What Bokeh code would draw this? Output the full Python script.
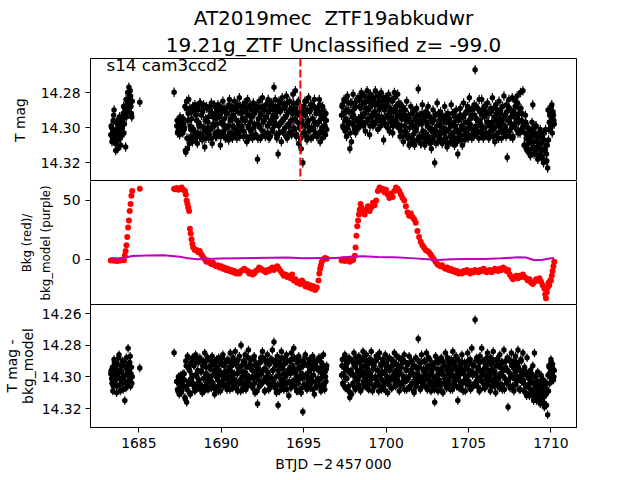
from bokeh.plotting import figure
from bokeh.models import (Range1d, FixedTicker, PrintfTickFormatter, Span, Label, Title,
                          ColumnDataSource, LinearAxis)
from bokeh.layouts import column
from bokeh.embed import file_html
from bokeh.resources import INLINE

# ---------------- data ----------------
title_line1 = "AT2019mec\u00a0 ZTF19abkudwr"
title_line2 = "19.21g_ZTF Unclassified z= -99.0"
sector_text = "s14 cam3ccd2"
event_time = 1694.8
mag_err = 0.0027

# observation times (BTJD - 2457000), first set
tA = [1683.30, 1683.35, 1683.40, 1683.45, 1683.50, 1683.55, 1683.60, 1683.65, 1683.70, 1683.75,
      1683.80, 1683.85, 1683.90, 1683.95, 1684.00, 1684.05, 1684.10, 1684.15, 1684.20, 1684.25,
      1684.30, 1684.35, 1684.40, 1684.45, 1684.50, 1684.55, 1684.60]
t_iso = [1685.06, 1687.14]
tB = [1687.30, 1687.35, 1687.40, 1687.45, 1687.50, 1687.55, 1687.60, 1687.65, 1687.70, 1687.75,
      1687.80, 1687.85, 1687.90, 1687.95, 1688.00, 1688.05, 1688.10, 1688.15, 1688.20, 1688.25,
      1688.30, 1688.35, 1688.40, 1688.45, 1688.50, 1688.55, 1688.60, 1688.65, 1688.70, 1688.75,
      1688.80, 1688.85, 1688.90, 1688.95, 1689.00, 1689.05, 1689.10, 1689.15, 1689.20, 1689.25,
      1689.30, 1689.35, 1689.40, 1689.45, 1689.50, 1689.55, 1689.60, 1689.65, 1689.70, 1689.75,
      1689.80, 1689.85, 1689.90, 1689.95, 1690.00, 1690.05, 1690.10, 1690.15, 1690.20, 1690.25,
      1690.30, 1690.35, 1690.40, 1690.45, 1690.50, 1690.55, 1690.60, 1690.65, 1690.70, 1690.75,
      1690.80, 1690.85, 1690.90, 1690.95, 1691.00, 1691.05, 1691.10, 1691.15, 1691.20, 1691.25,
      1691.30, 1691.35, 1691.40, 1691.45, 1691.50, 1691.55, 1691.60, 1691.65, 1691.70, 1691.75,
      1691.80, 1691.85, 1691.90, 1691.95, 1692.00, 1692.05, 1692.10, 1692.15, 1692.20, 1692.25,
      1692.30, 1692.35, 1692.40, 1692.45, 1692.50, 1692.55, 1692.60, 1692.65, 1692.70, 1692.75,
      1692.80, 1692.85, 1692.90, 1692.95, 1693.00, 1693.05, 1693.10, 1693.15, 1693.20, 1693.25,
      1693.30, 1693.35, 1693.40, 1693.45, 1693.50, 1693.55, 1693.60, 1693.65, 1693.70, 1693.75,
      1693.80, 1693.85, 1693.90, 1693.95, 1694.00, 1694.05, 1694.10, 1694.15, 1694.20, 1694.25,
      1694.30, 1694.35, 1694.40, 1694.45, 1694.50, 1694.55, 1694.60, 1694.65, 1694.70, 1694.75,
      1694.80, 1694.85, 1694.90, 1694.95, 1695.00, 1695.05, 1695.10, 1695.15, 1695.20, 1695.25,
      1695.30, 1695.35, 1695.40, 1695.45, 1695.50, 1695.55, 1695.60, 1695.65, 1695.70, 1695.75,
      1695.80, 1695.85, 1695.90, 1695.95, 1696.00, 1696.05, 1696.10, 1696.15, 1696.20, 1696.25,
      1696.30, 1696.35, 1696.40]
tC = [1697.30, 1697.35, 1697.40, 1697.45, 1697.50, 1697.55, 1697.60, 1697.65, 1697.70, 1697.75,
      1697.80, 1697.85, 1697.90, 1697.95, 1698.00, 1698.05, 1698.10, 1698.15, 1698.20, 1698.25,
      1698.30, 1698.35, 1698.40, 1698.45, 1698.50, 1698.55, 1698.60, 1698.65, 1698.70, 1698.75,
      1698.80, 1698.85, 1698.90, 1698.95, 1699.00, 1699.05, 1699.10, 1699.15, 1699.20, 1699.25,
      1699.30, 1699.35, 1699.40, 1699.45, 1699.50, 1699.55, 1699.60, 1699.65, 1699.70, 1699.75,
      1699.80, 1699.85, 1699.90, 1699.95, 1700.00, 1700.05, 1700.10, 1700.15, 1700.20, 1700.25,
      1700.30, 1700.35, 1700.40, 1700.45, 1700.50, 1700.55, 1700.60, 1700.65, 1700.70, 1700.75,
      1700.80, 1700.85, 1700.90, 1700.95, 1701.00, 1701.05, 1701.10, 1701.15, 1701.20, 1701.25,
      1701.30, 1701.35, 1701.40, 1701.45, 1701.50, 1701.55, 1701.60, 1701.65, 1701.70, 1701.75,
      1701.80, 1701.85, 1701.90, 1701.95, 1702.00, 1702.05, 1702.10, 1702.15, 1702.20, 1702.25,
      1702.30, 1702.35, 1702.40, 1702.45, 1702.50, 1702.55, 1702.60, 1702.65, 1702.70, 1702.75,
      1702.80, 1702.85, 1702.90, 1702.95, 1703.00, 1703.05, 1703.10, 1703.15, 1703.20, 1703.25,
      1703.30, 1703.35, 1703.40, 1703.45, 1703.50, 1703.55, 1703.60, 1703.65, 1703.70, 1703.75,
      1703.80, 1703.85, 1703.90, 1703.95, 1704.00, 1704.05, 1704.10, 1704.15, 1704.20, 1704.25,
      1704.30, 1704.35, 1704.40, 1704.45, 1704.50, 1704.55, 1704.60, 1704.65, 1704.70, 1704.75,
      1704.80, 1704.85, 1704.90, 1704.95, 1705.00, 1705.05, 1705.10, 1705.15, 1705.20, 1705.25,
      1705.30, 1705.35, 1705.40, 1705.45, 1705.50, 1705.55, 1705.60, 1705.65, 1705.70, 1705.75,
      1705.80, 1705.85, 1705.90, 1705.95, 1706.00, 1706.05, 1706.10, 1706.15, 1706.20, 1706.25,
      1706.30, 1706.35, 1706.40, 1706.45, 1706.50, 1706.55, 1706.60, 1706.65, 1706.70, 1706.75,
      1706.80, 1706.85, 1706.90, 1706.95, 1707.00, 1707.05, 1707.10, 1707.15, 1707.20, 1707.25,
      1707.30, 1707.35, 1707.40, 1707.45, 1707.50, 1707.55, 1707.60, 1707.65, 1707.70, 1707.75,
      1707.80, 1707.85, 1707.90, 1707.95, 1708.00, 1708.05, 1708.10, 1708.15, 1708.20, 1708.25,
      1708.30, 1708.35, 1708.40, 1708.45, 1708.50, 1708.55, 1708.60, 1708.65, 1708.70, 1708.75,
      1708.80, 1708.85, 1708.90, 1708.95, 1709.00, 1709.05, 1709.10, 1709.15, 1709.20, 1709.25,
      1709.30, 1709.35, 1709.40, 1709.45, 1709.50, 1709.55, 1709.60, 1709.65, 1709.70, 1709.75,
      1709.80, 1709.85, 1709.90, 1709.95, 1710.00, 1710.05, 1710.10, 1710.15, 1710.20]

# observation times, second (interleaved) set
tA2 = [1683.325, 1683.375, 1683.425, 1683.475, 1683.525, 1683.575, 1683.625, 1683.675, 1683.725, 1683.775,
       1683.825, 1683.875, 1683.925, 1683.975, 1684.025, 1684.075, 1684.125, 1684.175, 1684.225, 1684.275,
       1684.325, 1684.375, 1684.425, 1684.475, 1684.525, 1684.575]
tB2 = [1687.325, 1687.375, 1687.425, 1687.475, 1687.525, 1687.575, 1687.625, 1687.675, 1687.725, 1687.775,
       1687.825, 1687.875, 1687.925, 1687.975, 1688.025, 1688.075, 1688.125, 1688.175, 1688.225, 1688.275,
       1688.325, 1688.375, 1688.425, 1688.475, 1688.525, 1688.575, 1688.625, 1688.675, 1688.725, 1688.775,
       1688.825, 1688.875, 1688.925, 1688.975, 1689.025, 1689.075, 1689.125, 1689.175, 1689.225, 1689.275,
       1689.325, 1689.375, 1689.425, 1689.475, 1689.525, 1689.575, 1689.625, 1689.675, 1689.725, 1689.775,
       1689.825, 1689.875, 1689.925, 1689.975, 1690.025, 1690.075, 1690.125, 1690.175, 1690.225, 1690.275,
       1690.325, 1690.375, 1690.425, 1690.475, 1690.525, 1690.575, 1690.625, 1690.675, 1690.725, 1690.775,
       1690.825, 1690.875, 1690.925, 1690.975, 1691.025, 1691.075, 1691.125, 1691.175, 1691.225, 1691.275,
       1691.325, 1691.375, 1691.425, 1691.475, 1691.525, 1691.575, 1691.625, 1691.675, 1691.725, 1691.775,
       1691.825, 1691.875, 1691.925, 1691.975, 1692.025, 1692.075, 1692.125, 1692.175, 1692.225, 1692.275,
       1692.325, 1692.375, 1692.425, 1692.475, 1692.525, 1692.575, 1692.625, 1692.675, 1692.725, 1692.775,
       1692.825, 1692.875, 1692.925, 1692.975, 1693.025, 1693.075, 1693.125, 1693.175, 1693.225, 1693.275,
       1693.325, 1693.375, 1693.425, 1693.475, 1693.525, 1693.575, 1693.625, 1693.675, 1693.725, 1693.775,
       1693.825, 1693.875, 1693.925, 1693.975, 1694.025, 1694.075, 1694.125, 1694.175, 1694.225, 1694.275,
       1694.325, 1694.375, 1694.425, 1694.475, 1694.525, 1694.575, 1694.625, 1694.675, 1694.725, 1694.775,
       1694.825, 1694.875, 1694.925, 1694.975, 1695.025, 1695.075, 1695.125, 1695.175, 1695.225, 1695.275,
       1695.325, 1695.375, 1695.425, 1695.475, 1695.525, 1695.575, 1695.625, 1695.675, 1695.725, 1695.775,
       1695.825, 1695.875, 1695.925, 1695.975, 1696.025, 1696.075, 1696.125, 1696.175, 1696.225, 1696.275,
       1696.325, 1696.375]
tC2 = [1697.325, 1697.375, 1697.425, 1697.475, 1697.525, 1697.575, 1697.625, 1697.675, 1697.725, 1697.775,
       1697.825, 1697.875, 1697.925, 1697.975, 1698.025, 1698.075, 1698.125, 1698.175, 1698.225, 1698.275,
       1698.325, 1698.375, 1698.425, 1698.475, 1698.525, 1698.575, 1698.625, 1698.675, 1698.725, 1698.775,
       1698.825, 1698.875, 1698.925, 1698.975, 1699.025, 1699.075, 1699.125, 1699.175, 1699.225, 1699.275,
       1699.325, 1699.375, 1699.425, 1699.475, 1699.525, 1699.575, 1699.625, 1699.675, 1699.725, 1699.775,
       1699.825, 1699.875, 1699.925, 1699.975, 1700.025, 1700.075, 1700.125, 1700.175, 1700.225, 1700.275,
       1700.325, 1700.375, 1700.425, 1700.475, 1700.525, 1700.575, 1700.625, 1700.675, 1700.725, 1700.775,
       1700.825, 1700.875, 1700.925, 1700.975, 1701.025, 1701.075, 1701.125, 1701.175, 1701.225, 1701.275,
       1701.325, 1701.375, 1701.425, 1701.475, 1701.525, 1701.575, 1701.625, 1701.675, 1701.725, 1701.775,
       1701.825, 1701.875, 1701.925, 1701.975, 1702.025, 1702.075, 1702.125, 1702.175, 1702.225, 1702.275,
       1702.325, 1702.375, 1702.425, 1702.475, 1702.525, 1702.575, 1702.625, 1702.675, 1702.725, 1702.775,
       1702.825, 1702.875, 1702.925, 1702.975, 1703.025, 1703.075, 1703.125, 1703.175, 1703.225, 1703.275,
       1703.325, 1703.375, 1703.425, 1703.475, 1703.525, 1703.575, 1703.625, 1703.675, 1703.725, 1703.775,
       1703.825, 1703.875, 1703.925, 1703.975, 1704.025, 1704.075, 1704.125, 1704.175, 1704.225, 1704.275,
       1704.325, 1704.375, 1704.425, 1704.475, 1704.525, 1704.575, 1704.625, 1704.675, 1704.725, 1704.775,
       1704.825, 1704.875, 1704.925, 1704.975, 1705.025, 1705.075, 1705.125, 1705.175, 1705.225, 1705.275,
       1705.325, 1705.375, 1705.425, 1705.475, 1705.525, 1705.575, 1705.625, 1705.675, 1705.725, 1705.775,
       1705.825, 1705.875, 1705.925, 1705.975, 1706.025, 1706.075, 1706.125, 1706.175, 1706.225, 1706.275,
       1706.325, 1706.375, 1706.425, 1706.475, 1706.525, 1706.575, 1706.625, 1706.675, 1706.725, 1706.775,
       1706.825, 1706.875, 1706.925, 1706.975, 1707.025, 1707.075, 1707.125, 1707.175, 1707.225, 1707.275,
       1707.325, 1707.375, 1707.425, 1707.475, 1707.525, 1707.575, 1707.625, 1707.675, 1707.725, 1707.775,
       1707.825, 1707.875, 1707.925, 1707.975, 1708.025, 1708.075, 1708.125, 1708.175, 1708.225, 1708.275,
       1708.325, 1708.375, 1708.425, 1708.475, 1708.525, 1708.575, 1708.625, 1708.675, 1708.725, 1708.775,
       1708.825, 1708.875, 1708.925, 1708.975, 1709.025, 1709.075, 1709.125, 1709.175, 1709.225, 1709.275,
       1709.325, 1709.375, 1709.425, 1709.475, 1709.525, 1709.575, 1709.625, 1709.675, 1709.725, 1709.775,
       1709.825, 1709.875, 1709.925, 1709.975, 1710.025, 1710.075, 1710.125, 1710.175]

# T mag (top panel), first set
magA = [14.304, 14.300, 14.306, 14.296, 14.290, 14.302, 14.313, 14.304, 14.298, 14.307,
        14.295, 14.302, 14.310, 14.297, 14.300, 14.292, 14.303, 14.289, 14.311, 14.294,
        14.286, 14.291, 14.277, 14.287, 14.282, 14.292, 14.285]
mag_iso = [14.2855, 14.2798]
magB = [14.299, 14.303, 14.296, 14.301, 14.294, 14.300, 14.297, 14.302, 14.295, 14.301,
        14.288, 14.314, 14.285, 14.312, 14.292, 14.306, 14.289, 14.301, 14.295, 14.308,
        14.291, 14.302, 14.287, 14.305, 14.296, 14.309, 14.290, 14.299, 14.286, 14.304,
        14.293, 14.307, 14.289, 14.300, 14.311, 14.295, 14.288, 14.303, 14.297, 14.306,
        14.290, 14.301, 14.286, 14.309, 14.294, 14.299, 14.288, 14.305, 14.292, 14.298,
        14.287, 14.304, 14.293, 14.310, 14.290, 14.298, 14.285, 14.302, 14.295, 14.306,
        14.289, 14.300, 14.292, 14.307, 14.284, 14.296, 14.303, 14.288, 14.299, 14.293,
        14.285, 14.301, 14.290, 14.306, 14.287, 14.297, 14.283, 14.302, 14.292, 14.299,
        14.288, 14.305, 14.286, 14.296, 14.291, 14.308, 14.284, 14.300, 14.293, 14.287,
        14.302, 14.290, 14.306, 14.286, 14.298, 14.291, 14.304, 14.288, 14.318, 14.295,
        14.285, 14.300, 14.292, 14.305, 14.283, 14.297, 14.289, 14.303, 14.287, 14.294,
        14.299, 14.284, 14.306, 14.290, 14.296, 14.286, 14.301, 14.293, 14.277, 14.297,
        14.288, 14.304, 14.291, 14.315, 14.285, 14.298, 14.290, 14.308, 14.283, 14.296,
        14.302, 14.287, 14.294, 14.282, 14.306, 14.291, 14.299, 14.285, 14.303, 14.289,
        14.296, 14.281, 14.300, 14.290, 14.279, 14.305, 14.292, 14.286, 14.309, 14.298,
        14.291, 14.312, 14.296, 14.320, 14.288, 14.303, 14.293, 14.285, 14.307, 14.297,
        14.283, 14.300, 14.290, 14.306, 14.287, 14.295, 14.301, 14.284, 14.298, 14.292,
        14.305, 14.289, 14.297, 14.284, 14.308, 14.293, 14.300, 14.288, 14.303, 14.295,
        14.299, 14.292, 14.301]
magC = [14.293, 14.287, 14.300, 14.284, 14.296, 14.290, 14.305, 14.282, 14.298, 14.291,
        14.312, 14.286, 14.308, 14.294, 14.281, 14.299, 14.289, 14.303, 14.285, 14.296,
        14.283, 14.300, 14.288, 14.294, 14.280, 14.297, 14.286, 14.292, 14.282, 14.302,
        14.289, 14.279, 14.295, 14.285, 14.304, 14.281, 14.293, 14.287, 14.299, 14.283,
        14.291, 14.279, 14.296, 14.286, 14.301, 14.282, 14.294, 14.288, 14.280, 14.297,
        14.285, 14.307, 14.290, 14.283, 14.299, 14.287, 14.294, 14.281, 14.302, 14.289,
        14.296, 14.284, 14.303, 14.291, 14.280, 14.298, 14.288, 14.294, 14.281, 14.300,
        14.292, 14.305, 14.287, 14.299, 14.294, 14.308, 14.290, 14.302, 14.296, 14.285,
        14.304, 14.293, 14.310, 14.297, 14.288, 14.306, 14.299, 14.291, 14.308, 14.295,
        14.302, 14.289, 14.297, 14.278, 14.305, 14.293, 14.309, 14.298, 14.287, 14.303,
        14.296, 14.310, 14.291, 14.304, 14.299, 14.288, 14.307, 14.294, 14.301, 14.312,
        14.297, 14.290, 14.305, 14.320, 14.293, 14.302, 14.286, 14.308, 14.296, 14.304,
        14.291, 14.300, 14.309, 14.294, 14.303, 14.288, 14.306, 14.297, 14.311, 14.292,
        14.301, 14.295, 14.308, 14.287, 14.304, 14.298, 14.292, 14.310, 14.299, 14.290,
        14.306, 14.315, 14.296, 14.302, 14.289, 14.307, 14.294, 14.300, 14.286, 14.304,
        14.297, 14.291, 14.305, 14.288, 14.300, 14.283, 14.298, 14.293, 14.306, 14.290,
        14.301, 14.287, 14.267, 14.295, 14.303, 14.289, 14.299, 14.284, 14.296, 14.302,
        14.284, 14.293, 14.306, 14.288, 14.300, 14.291, 14.304, 14.286, 14.297, 14.292,
        14.305, 14.289, 14.298, 14.283, 14.301, 14.294, 14.308, 14.287, 14.296, 14.290,
        14.303, 14.285, 14.299, 14.292, 14.306, 14.288, 14.295, 14.282, 14.301, 14.293,
        14.287, 14.317, 14.296, 14.284, 14.302, 14.290, 14.298, 14.283, 14.305, 14.291,
        14.299, 14.285, 14.294, 14.282, 14.303, 14.289, 14.296, 14.280, 14.301, 14.292,
        14.279, 14.298, 14.310, 14.293, 14.306, 14.313, 14.300, 14.309, 14.302, 14.316,
        14.305, 14.297, 14.287, 14.311, 14.303, 14.314, 14.299, 14.308, 14.318, 14.304,
        14.312, 14.301, 14.309, 14.316, 14.306, 14.320, 14.303, 14.313, 14.310, 14.319,
        14.323, 14.307, 14.297, 14.291, 14.300, 14.287, 14.295, 14.293, 14.298]

# T mag (top panel), second set
magA2 = [14.299, 14.308, 14.303, 14.293, 14.305, 14.309, 14.297, 14.301, 14.312, 14.300,
         14.294, 14.306, 14.299, 14.304, 14.296, 14.288, 14.298, 14.293, 14.284, 14.290,
         14.280, 14.286, 14.283, 14.279, 14.288, 14.294]
magB2 = [14.296, 14.302, 14.299, 14.304, 14.297, 14.301, 14.295, 14.303, 14.298, 14.300,
         14.313, 14.289, 14.306, 14.296, 14.284, 14.309, 14.299, 14.291, 14.305, 14.288,
         14.301, 14.290, 14.306, 14.293, 14.288, 14.303, 14.297, 14.305, 14.286, 14.299,
         14.305, 14.291, 14.287, 14.302, 14.296, 14.306, 14.289, 14.300, 14.294, 14.304,
         14.288, 14.300, 14.306, 14.292, 14.298, 14.287, 14.303, 14.295, 14.305, 14.290,
         14.302, 14.294, 14.288, 14.305, 14.297, 14.291, 14.303, 14.289, 14.299, 14.306,
         14.292, 14.305, 14.299, 14.287, 14.303, 14.295, 14.290, 14.306, 14.294, 14.300,
         14.304, 14.289, 14.296, 14.303, 14.291, 14.299, 14.305, 14.288, 14.300, 14.295,
         14.291, 14.302, 14.296, 14.288, 14.305, 14.293, 14.299, 14.306, 14.289, 14.297,
         14.305, 14.294, 14.287, 14.300, 14.292, 14.304, 14.290, 14.298, 14.306, 14.289,
         14.299, 14.306, 14.293, 14.288, 14.302, 14.296, 14.290, 14.305, 14.294, 14.287,
         14.303, 14.291, 14.298, 14.305, 14.288, 14.296, 14.302, 14.290, 14.299, 14.284,
         14.294, 14.306, 14.288, 14.299, 14.303, 14.291, 14.297, 14.286, 14.302, 14.295,
         14.289, 14.300, 14.305, 14.293, 14.286, 14.298, 14.303, 14.290, 14.296, 14.304,
         14.292, 14.286, 14.301, 14.295, 14.289, 14.304, 14.297, 14.285, 14.300, 14.293,
         14.306, 14.289, 14.298, 14.303, 14.292, 14.285, 14.299, 14.305, 14.290, 14.296,
         14.302, 14.291, 14.287, 14.300, 14.295, 14.305, 14.288, 14.297, 14.303, 14.290,
         14.298, 14.304, 14.291, 14.287, 14.302, 14.295, 14.306, 14.290, 14.299, 14.293,
         14.304, 14.296]
magC2 = [14.288, 14.299, 14.292, 14.285, 14.302, 14.295, 14.290, 14.300, 14.286, 14.297,
         14.303, 14.291, 14.286, 14.298, 14.293, 14.301, 14.288, 14.296, 14.284, 14.300,
         14.295, 14.284, 14.298, 14.289, 14.282, 14.294, 14.299, 14.286, 14.292, 14.297,
         14.285, 14.296, 14.290, 14.283, 14.299, 14.288, 14.294, 14.297, 14.284, 14.292,
         14.298, 14.287, 14.293, 14.282, 14.296, 14.290, 14.285, 14.299, 14.294, 14.288,
         14.283, 14.295, 14.289, 14.298, 14.286, 14.293, 14.300, 14.284, 14.291, 14.297,
         14.294, 14.285, 14.299, 14.290, 14.283, 14.296, 14.288, 14.292, 14.298, 14.286,
         14.291, 14.302, 14.295, 14.288, 14.305, 14.293, 14.299, 14.290, 14.303, 14.296,
         14.306, 14.294, 14.300, 14.309, 14.297, 14.292, 14.304, 14.299, 14.310, 14.295,
         14.301, 14.307, 14.293, 14.298, 14.305, 14.296, 14.309, 14.292, 14.302, 14.306,
         14.294, 14.303, 14.308, 14.297, 14.292, 14.305, 14.300, 14.309, 14.295, 14.302,
         14.307, 14.296, 14.301, 14.293, 14.309, 14.299, 14.304, 14.292, 14.306, 14.298,
         14.303, 14.294, 14.308, 14.300, 14.296, 14.306, 14.293, 14.302, 14.309, 14.297,
         14.295, 14.305, 14.299, 14.308, 14.292, 14.303, 14.297, 14.306, 14.294, 14.301,
         14.308, 14.296, 14.303, 14.293, 14.305, 14.299, 14.310, 14.294, 14.301, 14.307,
         14.292, 14.303, 14.297, 14.306, 14.290, 14.300, 14.295, 14.304, 14.289, 14.301,
         14.305, 14.293, 14.299, 14.288, 14.302, 14.296, 14.306, 14.291, 14.298, 14.303,
         14.290, 14.300, 14.305, 14.294, 14.288, 14.303, 14.297, 14.292, 14.306, 14.299,
         14.302, 14.291, 14.297, 14.305, 14.289, 14.300, 14.294, 14.304, 14.292, 14.298,
         14.306, 14.295, 14.290, 14.301, 14.297, 14.288, 14.303, 14.293, 14.299, 14.305,
         14.291, 14.302, 14.296, 14.289, 14.305, 14.294, 14.300, 14.306, 14.292, 14.298,
         14.288, 14.295, 14.301, 14.286, 14.297, 14.292, 14.303, 14.289, 14.296, 14.300,
         14.299, 14.310, 14.303, 14.297, 14.312, 14.305, 14.300, 14.314, 14.307, 14.302,
         14.312, 14.301, 14.308, 14.315, 14.304, 14.299, 14.311, 14.306, 14.316, 14.303,
         14.309, 14.316, 14.304, 14.313, 14.318, 14.307, 14.312, 14.301, 14.315, 14.310,
         14.290, 14.301, 14.293, 14.298, 14.288, 14.303, 14.291, 14.296]

# T mag - bkg_model (bottom panel), first set
corrA = [14.298, 14.301, 14.294, 14.306, 14.289, 14.303, 14.297, 14.310, 14.292, 14.300,
         14.286, 14.305, 14.296, 14.302, 14.290, 14.308, 14.293, 14.315, 14.299, 14.288,
         14.304, 14.282, 14.297, 14.291, 14.306, 14.294, 14.300]
corr_iso = [14.2944, 14.2848]
corrB = [14.303, 14.308, 14.300, 14.311, 14.304, 14.299, 14.309, 14.302, 14.306, 14.298,
         14.313, 14.290, 14.316, 14.287, 14.305, 14.295, 14.310, 14.292, 14.301, 14.288,
         14.304, 14.293, 14.309, 14.286, 14.299, 14.307, 14.291, 14.302, 14.288, 14.305,
         14.296, 14.310, 14.290, 14.301, 14.285, 14.306, 14.294, 14.299, 14.308, 14.289,
         14.302, 14.293, 14.307, 14.287, 14.304, 14.296, 14.311, 14.290, 14.300, 14.294,
         14.306, 14.288, 14.299, 14.309, 14.292, 14.303, 14.286, 14.305, 14.297, 14.291,
         14.301, 14.308, 14.289, 14.296, 14.304, 14.285, 14.300, 14.293, 14.307, 14.290,
         14.298, 14.284, 14.303, 14.291, 14.309, 14.295, 14.287, 14.302, 14.280, 14.297,
         14.305, 14.290, 14.300, 14.286, 14.308, 14.294, 14.299, 14.283, 14.304, 14.292,
         14.289, 14.306, 14.296, 14.301, 14.287, 14.310, 14.293, 14.299, 14.317, 14.302,
         14.291, 14.305, 14.288, 14.298, 14.284, 14.303, 14.295, 14.309, 14.290, 14.300,
         14.286, 14.304, 14.292, 14.307, 14.289, 14.301, 14.283, 14.296, 14.278, 14.306,
         14.293, 14.310, 14.287, 14.318, 14.299, 14.291, 14.305, 14.284, 14.302, 14.295,
         14.308, 14.289, 14.300, 14.286, 14.304, 14.296, 14.312, 14.290, 14.298, 14.285,
         14.303, 14.293, 14.282, 14.306, 14.289, 14.300, 14.295, 14.309, 14.287, 14.301,
         14.294, 14.310, 14.298, 14.322, 14.290, 14.305, 14.286, 14.300, 14.308, 14.293,
         14.301, 14.289, 14.307, 14.295, 14.303, 14.287, 14.299, 14.311, 14.292, 14.304,
         14.290, 14.306, 14.296, 14.302, 14.288, 14.309, 14.294, 14.300, 14.286, 14.305,
         14.297, 14.303, 14.293]
corrC = [14.299, 14.289, 14.305, 14.294, 14.286, 14.301, 14.292, 14.308, 14.296, 14.288,
         14.313, 14.298, 14.311, 14.290, 14.304, 14.285, 14.300, 14.294, 14.307, 14.291,
         14.302, 14.287, 14.296, 14.309, 14.290, 14.299, 14.284, 14.305, 14.293, 14.300,
         14.286, 14.303, 14.295, 14.308, 14.289, 14.298, 14.284, 14.301, 14.292, 14.306,
         14.290, 14.300, 14.287, 14.304, 14.296, 14.309, 14.285, 14.299, 14.293, 14.302,
         14.289, 14.306, 14.297, 14.286, 14.303, 14.292, 14.310, 14.295, 14.288, 14.301,
         14.294, 14.307, 14.290, 14.299, 14.285, 14.304, 14.296, 14.287, 14.302, 14.293,
         14.309, 14.297, 14.289, 14.305, 14.291, 14.300, 14.286, 14.303, 14.295, 14.308,
         14.292, 14.301, 14.287, 14.306, 14.298, 14.290, 14.304, 14.294, 14.310, 14.299,
         14.288, 14.303, 14.295, 14.276, 14.300, 14.291, 14.307, 14.286, 14.302, 14.296,
         14.305, 14.290, 14.299, 14.285, 14.308, 14.294, 14.301, 14.289, 14.304, 14.297,
         14.292, 14.306, 14.300, 14.316, 14.287, 14.303, 14.295, 14.309, 14.291, 14.298,
         14.304, 14.288, 14.297, 14.310, 14.293, 14.301, 14.285, 14.306, 14.296, 14.290,
         14.303, 14.294, 14.308, 14.289, 14.299, 14.284, 14.305, 14.292, 14.300, 14.287,
         14.296, 14.315, 14.302, 14.290, 14.307, 14.295, 14.286, 14.304, 14.298, 14.291,
         14.309, 14.293, 14.300, 14.285, 14.303, 14.296, 14.289, 14.306, 14.282, 14.299,
         14.292, 14.305, 14.264, 14.298, 14.288, 14.302, 14.294, 14.309, 14.287, 14.300,
         14.282, 14.296, 14.304, 14.290, 14.307, 14.293, 14.299, 14.285, 14.303, 14.291,
         14.300, 14.288, 14.306, 14.295, 14.284, 14.302, 14.297, 14.310, 14.289, 14.304,
         14.293, 14.299, 14.286, 14.305, 14.291, 14.308, 14.296, 14.283, 14.301, 14.294,
         14.304, 14.288, 14.319, 14.297, 14.290, 14.306, 14.285, 14.300, 14.293, 14.309,
         14.295, 14.287, 14.303, 14.292, 14.283, 14.301, 14.296, 14.308, 14.290, 14.299,
         14.285, 14.304, 14.294, 14.310, 14.298, 14.288, 14.306, 14.301, 14.312, 14.296,
         14.303, 14.309, 14.293, 14.315, 14.285, 14.306, 14.300, 14.311, 14.297, 14.314,
         14.305, 14.317, 14.299, 14.308, 14.313, 14.302, 14.319, 14.307, 14.311, 14.304,
         14.324, 14.309, 14.294, 14.300, 14.289, 14.297, 14.292, 14.302, 14.296]

# T mag - bkg_model (bottom panel), second set
corrA2 = [14.296, 14.304, 14.309, 14.299, 14.291, 14.302, 14.295, 14.306, 14.298, 14.288,
          14.301, 14.309, 14.293, 14.297, 14.304, 14.300, 14.290, 14.303, 14.307, 14.295,
          14.299, 14.292, 14.302, 14.287, 14.298, 14.304]
corrB2 = [14.303, 14.309, 14.301, 14.307, 14.300, 14.310, 14.304, 14.298, 14.306, 14.302,
          14.314, 14.293, 14.308, 14.288, 14.303, 14.296, 14.311, 14.291, 14.299, 14.305,
          14.292, 14.307, 14.299, 14.289, 14.305, 14.296, 14.302, 14.290, 14.308, 14.297,
          14.306, 14.293, 14.301, 14.309, 14.291, 14.298, 14.304, 14.288, 14.300, 14.307,
          14.295, 14.303, 14.290, 14.299, 14.306, 14.292, 14.308, 14.297, 14.289, 14.302,
          14.309, 14.296, 14.291, 14.304, 14.299, 14.288, 14.306, 14.293, 14.301, 14.297,
          14.290, 14.305, 14.300, 14.294, 14.308, 14.291, 14.297, 14.303, 14.288, 14.306,
          14.302, 14.292, 14.307, 14.298, 14.289, 14.304, 14.295, 14.309, 14.293, 14.300,
          14.308, 14.297, 14.291, 14.303, 14.299, 14.306, 14.288, 14.301, 14.294, 14.305,
          14.293, 14.300, 14.307, 14.289, 14.304, 14.297, 14.292, 14.309, 14.300, 14.295,
          14.306, 14.291, 14.298, 14.304, 14.288, 14.302, 14.309, 14.295, 14.291, 14.303,
          14.297, 14.308, 14.292, 14.300, 14.305, 14.289, 14.296, 14.303, 14.291, 14.307,
          14.300, 14.289, 14.305, 14.296, 14.309, 14.293, 14.302, 14.288, 14.306, 14.298,
          14.292, 14.304, 14.299, 14.308, 14.290, 14.297, 14.303, 14.294, 14.307, 14.289,
          14.305, 14.296, 14.288, 14.302, 14.298, 14.309, 14.291, 14.304, 14.295, 14.300,
          14.290, 14.307, 14.301, 14.293, 14.305, 14.288, 14.299, 14.306, 14.292, 14.303,
          14.297, 14.289, 14.304, 14.300, 14.292, 14.308, 14.295, 14.290, 14.303, 14.306,
          14.294, 14.301, 14.288, 14.306, 14.297, 14.291, 14.305, 14.299, 14.293, 14.308,
          14.300, 14.295]
corrC2 = [14.293, 14.304, 14.298, 14.289, 14.307, 14.295, 14.301, 14.291, 14.306, 14.297,
          14.310, 14.296, 14.290, 14.305, 14.299, 14.293, 14.308, 14.288, 14.302, 14.297,
          14.305, 14.291, 14.299, 14.308, 14.294, 14.288, 14.303, 14.297, 14.306, 14.290,
          14.300, 14.307, 14.292, 14.298, 14.304, 14.289, 14.301, 14.309, 14.295, 14.293,
          14.306, 14.290, 14.302, 14.296, 14.288, 14.305, 14.299, 14.292, 14.308, 14.297,
          14.291, 14.303, 14.298, 14.309, 14.294, 14.300, 14.289, 14.305, 14.296, 14.302,
          14.307, 14.293, 14.290, 14.301, 14.297, 14.306, 14.292, 14.299, 14.304, 14.288,
          14.298, 14.305, 14.294, 14.289, 14.303, 14.300, 14.308, 14.291, 14.296, 14.302,
          14.292, 14.300, 14.307, 14.296, 14.290, 14.304, 14.298, 14.309, 14.293, 14.301,
          14.306, 14.289, 14.298, 14.303, 14.294, 14.308, 14.291, 14.300, 14.305, 14.295,
          14.290, 14.302, 14.297, 14.307, 14.293, 14.288, 14.304, 14.299, 14.309, 14.296,
          14.303, 14.294, 14.308, 14.291, 14.300, 14.305, 14.289, 14.297, 14.302, 14.306,
          14.295, 14.309, 14.290, 14.299, 14.304, 14.293, 14.301, 14.307, 14.288, 14.298,
          14.305, 14.292, 14.300, 14.296, 14.308, 14.290, 14.303, 14.294, 14.299, 14.306,
          14.289, 14.301, 14.307, 14.293, 14.298, 14.304, 14.291, 14.309, 14.296, 14.302,
          14.300, 14.294, 14.305, 14.290, 14.303, 14.298, 14.308, 14.292, 14.297, 14.306,
          14.293, 14.304, 14.299, 14.289, 14.306, 14.295, 14.302, 14.291, 14.308, 14.297,
          14.303, 14.290, 14.298, 14.307, 14.294, 14.301, 14.288, 14.305, 14.296, 14.300,
          14.309, 14.292, 14.297, 14.303, 14.290, 14.306, 14.299, 14.293, 14.304, 14.289,
          14.301, 14.307, 14.294, 14.298, 14.305, 14.291, 14.300, 14.308, 14.295, 14.290,
          14.304, 14.296, 14.302, 14.289, 14.307, 14.299, 14.293, 14.306, 14.290, 14.301,
          14.297, 14.305, 14.291, 14.300, 14.294, 14.308, 14.296, 14.289, 14.303, 14.299,
          14.302, 14.309, 14.296, 14.306, 14.312, 14.299, 14.305, 14.311, 14.301, 14.308,
          14.298, 14.310, 14.304, 14.313, 14.300, 14.307, 14.315, 14.303, 14.309, 14.311,
          14.306, 14.314, 14.302, 14.310, 14.316, 14.305, 14.312, 14.308, 14.318, 14.309,
          14.299, 14.293, 14.304, 14.297, 14.291, 14.302, 14.295, 14.300]

# background flux (red)
bkg_t = [1683.30, 1683.40, 1683.50, 1683.60, 1683.70, 1683.80, 1683.90, 1684.00, 1684.10, 1684.15,
         1684.20, 1684.25, 1684.30, 1684.35, 1684.40, 1684.45, 1684.50, 1684.55, 1684.60, 1685.06,
         1687.14, 1687.20, 1687.30, 1687.40, 1687.50, 1687.60, 1687.70, 1687.80, 1687.85, 1687.90,
         1687.95, 1688.00, 1688.05, 1688.10, 1688.15, 1688.20, 1688.25, 1688.30, 1688.40, 1688.50,
         1688.60, 1688.70, 1688.80, 1688.90, 1689.00, 1689.10, 1689.20, 1689.30, 1689.40, 1689.50,
         1689.60, 1689.70, 1689.80, 1689.90, 1690.00, 1690.10, 1690.20, 1690.30, 1690.40, 1690.50,
         1690.60, 1690.70, 1690.80, 1690.90, 1691.00, 1691.10, 1691.20, 1691.30, 1691.40, 1691.50,
         1691.60, 1691.70, 1691.80, 1691.90, 1692.00, 1692.10, 1692.20, 1692.30, 1692.40, 1692.50,
         1692.60, 1692.70, 1692.80, 1692.90, 1693.00, 1693.10, 1693.20, 1693.30, 1693.40, 1693.50,
         1693.60, 1693.70, 1693.80, 1693.90, 1694.00, 1694.10, 1694.20, 1694.30, 1694.40, 1694.50,
         1694.60, 1694.70, 1694.80, 1694.90, 1695.00, 1695.10, 1695.20, 1695.30, 1695.40, 1695.50,
         1695.60, 1695.70, 1695.80, 1695.90, 1695.95, 1696.00, 1696.05, 1696.10, 1696.20, 1696.30,
         1696.40,
         1697.30, 1697.40, 1697.50, 1697.60, 1697.70, 1697.80, 1697.90, 1698.00, 1698.10, 1698.15,
         1698.20, 1698.25, 1698.30, 1698.35, 1698.40, 1698.45, 1698.50, 1698.60, 1698.70, 1698.80,
         1698.90, 1699.00, 1699.10, 1699.20, 1699.30, 1699.40, 1699.50, 1699.60, 1699.70, 1699.80,
         1699.90, 1700.00, 1700.10, 1700.20, 1700.30, 1700.40, 1700.50, 1700.60, 1700.70, 1700.80,
         1700.90, 1701.00, 1701.10, 1701.20, 1701.30, 1701.40, 1701.50, 1701.60, 1701.70, 1701.80,
         1701.90, 1702.00, 1702.10, 1702.20, 1702.30, 1702.40, 1702.50, 1702.60, 1702.70, 1702.80,
         1702.90, 1703.00, 1703.10, 1703.20, 1703.30, 1703.40, 1703.50, 1703.60, 1703.70, 1703.80,
         1703.90, 1704.00, 1704.10, 1704.20, 1704.30, 1704.40, 1704.50, 1704.60, 1704.70, 1704.80,
         1704.90, 1705.00, 1705.10, 1705.20, 1705.30, 1705.40, 1705.50, 1705.60, 1705.70, 1705.80,
         1705.90, 1706.00, 1706.10, 1706.20, 1706.30, 1706.40, 1706.50, 1706.60, 1706.70, 1706.80,
         1706.90, 1707.00, 1707.10, 1707.20, 1707.30, 1707.40, 1707.50, 1707.60, 1707.70, 1707.80,
         1707.90, 1708.00, 1708.10, 1708.20, 1708.30, 1708.40, 1708.50, 1708.60, 1708.70, 1708.80,
         1708.90, 1709.00, 1709.10, 1709.20, 1709.30, 1709.40, 1709.50, 1709.60, 1709.65, 1709.70,
         1709.75, 1709.80, 1709.85, 1709.90, 1709.95, 1710.00, 1710.05, 1710.10, 1710.15, 1710.20]
bkg_v = [-1.0, -0.6, -1.2, -0.8, -1.4, -0.9, -1.1, -0.5, -0.7, 3,
         7, 12, 19, 27, 33, 41, 47, 54, 58, 60,
         60, 59.5, 60.5, 59, 60, 61, 59, 58, 55, 50,
         47, 44, 41, 26, 22, 17, 13, 10, 8, 8,
         6, 7, 4, 2, 0, -2, -1, -3, -4, -3,
         -5, -6, -5, -7, -6, -8, -7, -9, -8, -10,
         -9, -11, -10, -12, -11, -12, -10, -9, -8, -9,
         -10, -12, -11, -13, -12, -10, -9, -7, -8, -9,
         -10, -11, -9, -10, -8, -7, -9, -7, -6, -8,
         -10, -12, -14, -13, -15, -14, -16, -13, -18, -17,
         -20, -19, -21, -18, -20, -23, -21, -24, -22, -25,
         -23, -26, -24, -18, -12, -8, -5, -2, 0, 1,
         0.5,
         -1, 0, -1.5, -0.5, -1, -2, -1, -0.5, 3, 10,
         20, 28, 33, 38, 42, 47, 44, 40, 38, 42,
         45, 41, 44, 48, 46, 50, 58, 61, 59, 60,
         57, 59, 55, 52, 56, 53, 58, 61, 60, 58,
         55, 52, 50, 45, 40, 37, 39, 36, 34, 31,
         24, 19, 15, 12, 10, 8, 7, 6, 4, 2,
         0, -2, -4, -5, -6, -5, -7, -8, -7, -9,
         -8, -10, -9, -11, -10, -12, -11, -12, -10, -11,
         -9, -10, -12, -10, -11, -9, -10, -11, -9, -10,
         -8, -9, -11, -10, -9, -11, -10, -8, -9, -10,
         -8, -9, -7, -8, -10, -9, -13, -15, -17, -15,
         -14, -16, -14, -15, -13, -15, -16, -18, -17, -20,
         -21, -19, -17, -18, -16, -19, -22, -25, -30, -33,
         -28, -24, -20, -22, -18, -18, -14, -10, -6, -2]

# background model (purple)
model_t = [1683.30, 1683.80, 1684.20, 1684.60, 1685.50, 1686.50, 1687.50, 1688.00, 1688.50, 1689.00,
           1690.00, 1691.00, 1692.00, 1693.00, 1694.00, 1695.00, 1696.00, 1697.00, 1698.00, 1698.60,
           1699.50, 1700.50, 1701.50, 1702.50, 1703.10, 1704.00, 1705.00, 1706.00, 1707.00, 1708.00,
           1708.50, 1709.00, 1709.50, 1710.00, 1710.20]
model_v = [0.0, 0.2, 1.5, 2.8, 3.3, 3.4, 2.2, 0.8, 0.0, 0.2,
           0.6, 0.9, 1.2, 1.4, 1.6, 0.9, 1.1, 1.2, 2.3, 2.5,
           1.9, 1.7, 1.0, 0.1, -0.6, 0.0, 0.3, 0.3, 0.8, 1.7,
           1.5, -0.8, -0.3, 0.8, 1.0]

x_ticks = [1685, 1690, 1695, 1700, 1705, 1710]
mag_ticks_top = [14.28, 14.30, 14.32]
bkg_ticks = [0, 50]
mag_ticks_bottom = [14.26, 14.28, 14.30, 14.32]

# ---------------- assemble ----------------
time = tA + t_iso + tB + tC + tA2 + tB2 + tC2
tmag = magA + mag_iso + magB + magC + magA2 + magB2 + magC2
tmag_corr = corrA + corr_iso + corrB + corrC + corrA2 + corrB2 + corrC2
assert len(time) == len(tmag) == len(tmag_corr), (len(time), len(tmag), len(tmag_corr))
assert len(bkg_t) == len(bkg_v), (len(bkg_t), len(bkg_v))
assert len(model_t) == len(model_v)

FONT = "DejaVu Sans"
FS = "13.9px"
MID = "16.7px"
BIG = "20px"

x_range = Range1d(1682.07, 1711.55)


def base_fig(height, y_range, top=0, bottom=0, xaxis=False):
    p = figure(width=640, height=height, x_range=x_range, y_range=y_range,
               output_backend="svg", toolbar_location=None,
               x_axis_location="below" if xaxis else None,
               min_border=0, min_border_left=80, min_border_right=64,
               min_border_top=top, min_border_bottom=bottom)
    p.grid.visible = False
    p.outline_line_color = "black"
    p.outline_line_width = 1
    p.background_fill_color = "white"
    p.border_fill_color = "white"
    for ax in p.axis:
        ax.major_tick_in = 0
        ax.major_tick_out = 5
        ax.minor_tick_in = 0
        ax.minor_tick_out = 0
        ax.major_tick_line_color = "black"
        ax.axis_line_color = "black"
        ax.major_label_text_font = FONT
        ax.major_label_text_font_size = FS
        ax.major_label_text_color = "black"
        ax.major_label_standoff = 5
        ax.axis_label_text_font = FONT
        ax.axis_label_text_font_size = FS
        ax.axis_label_text_font_style = "normal"
        ax.axis_label_text_color = "black"
        ax.axis_label_standoff = 5
    return p


def mag_source(values):
    return ColumnDataSource(dict(t=time, m=values,
                                 lo=[v - mag_err for v in values],
                                 hi=[v + mag_err for v in values]))


# top panel
p1 = base_fig(181, Range1d(14.3307, 14.2606), top=58)
p1.title.text = title_line1
p1.title.align = "center"
p1.title.text_font = FONT
p1.title.text_font_size = BIG
p1.title.text_font_style = "normal"
p1.title.text_color = "black"
p1.title.standoff = 0
p1.add_layout(Title(text=title_line2, align="center", text_font=FONT, text_font_size=BIG,
                    text_font_style="normal", text_color="black", standoff=3), "above")
p1.yaxis.ticker = FixedTicker(ticks=mag_ticks_top)
p1.yaxis.formatter = PrintfTickFormatter(format="%.2f")
p1.yaxis.axis_label = "T mag"
p1.yaxis.axis_label_standoff = 10
s1 = mag_source(tmag)
p1.segment("t", "lo", "t", "hi", source=s1, line_color="black", line_width=1.2)
p1.scatter("t", "m", source=s1, size=5.5, fill_color="black", line_color=None)
p1.add_layout(Span(location=event_time, dimension="height", line_color="red",
                   line_dash="8 3", line_width=2))
p1.add_layout(Label(x=16, y=117, x_units="screen", y_units="screen", text=sector_text,
                    text_font=FONT, text_font_size=MID, text_color="black",
                    text_align="left", text_baseline="alphabetic"))

# middle panel
p2 = base_fig(123, Range1d(-38.4, 66.1))
p2.outline_line_color = None
p2.yaxis.ticker = FixedTicker(ticks=bkg_ticks)
p2.yaxis.formatter = PrintfTickFormatter(format="%d")
p2.yaxis.axis_label = "Bkg (red)/\nbkg_model (purple)"
p2.yaxis.axis_label_text_font_size = "11.8px"
p2.yaxis.axis_label_text_line_height = 1.35
p2.yaxis.axis_label_standoff = 7
right_edge = LinearAxis(ticker=FixedTicker(ticks=[]), major_tick_out=0, major_tick_in=0,
                        minor_tick_out=0, minor_tick_in=0, major_label_text_font_size="0px",
                        axis_line_color="black", major_label_standoff=0)
p2.add_layout(right_edge, "right")
p2.scatter(bkg_t, bkg_v, size=6, fill_color="red", line_color=None)
p2.line(model_t, model_v, line_color="#bf00bf", line_width=2)

# bottom panel
p3 = base_fig(173, Range1d(14.332, 14.2543), bottom=50, xaxis=True)
p3.yaxis.ticker = FixedTicker(ticks=mag_ticks_bottom)
p3.yaxis.formatter = PrintfTickFormatter(format="%.2f")
p3.yaxis.axis_label = "T mag -\nbkg_model"
p3.yaxis.axis_label_text_line_height = 1.0
p3.yaxis.axis_label_standoff = 3
p3.yaxis.major_label_standoff = 4
p3.xaxis.ticker = FixedTicker(ticks=x_ticks)
p3.xaxis.formatter = PrintfTickFormatter(format="%d")
p3.xaxis.axis_label = "BTJD \u22122\u2009457\u2009000"
s3 = mag_source(tmag_corr)
p3.segment("t", "lo", "t", "hi", source=s3, line_color="black", line_width=1.2)
p3.scatter("t", "m", source=s3, size=5.5, fill_color="black", line_color=None)

layout = column(p1, p2, p3)

with open("out.html", "w") as f:
    f.write(file_html(layout, INLINE))
